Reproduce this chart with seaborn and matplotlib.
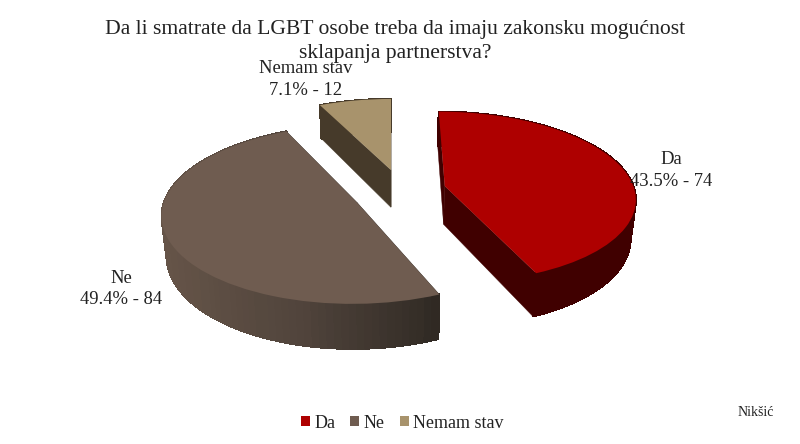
"""plot.py
Exploded 3D-looking pie: ax.pie wedges pushed through a perspective transform.
"""

import matplotlib.pyplot as plt
import matplotlib.transforms as mtransforms
import numpy as np
import seaborn as sns

# Data
categories = ['Da', 'Ne', 'Nemam stav']
counts = [74, 84, 12]
title = ('Da li smatrate da LGBT osobe treba da imaju zakonsku mogućnost\n'
         'sklapanja partnerstva?')
note = 'Nikšić'

# Styles
top_colors = ['#ae0000', '#6f5c50', '#a8936c']
side_colors = ['#400000', '#2e2822', '#463a2a']
rim_colors = [['#400000', '#400000'],
              ['#655448', '#4f433b', '#2e2822'],
              ['#463a2a', '#463a2a']]
text_color = '#222222'

# Layout
wedge_shift = [(0.285, 0.058), (-0.175, -0.135), (0.0, 0.254)]
label_pos = [(671, 170.5), (121, 289), (306, 79.5)]
depth = 38.5
lower_shrink = 0.978


class Perspective(mtransforms.Transform):
    """Map the pie plane to pixels, with a vanishing point behind the pie."""
    input_dims = 2
    output_dims = 2

    def __init__(self, drop=0.0, shrink=1.0):
        super().__init__()
        self.drop = drop
        self.shrink = shrink

    def transform_non_affine(self, values):
        values = np.asarray(values)
        w = 1 + 0.127 * values[:, 1]
        sx = 391 + 190 * self.shrink * values[:, 0] / w
        sy = -479 + (670 + self.drop) / w
        return np.column_stack([sx, sy])


sns.set_theme(style='white')
plt.rcParams['font.family'] = ['Liberation Serif', 'DejaVu Serif']

fig, ax = plt.subplots(figsize=(8, 4.44), dpi=100)
fig.subplots_adjust(left=0, right=1, bottom=0, top=1)

wedges, _ = ax.pie(counts, colors=top_colors, startangle=90, counterclock=False,
                   wedgeprops={'linewidth': 0})

upper = Perspective()
lower = Perspective(drop=depth, shrink=lower_shrink)

for i, wedge in enumerate(wedges):
    wedge.set_center(wedge_shift[i])
    wedge.set_transform(upper + ax.transData)
    wedge.set_zorder(3)

    # Arc of this slice on the pie plane
    angles = np.radians(np.linspace(wedge.theta1, wedge.theta2, 90))
    arc = np.column_stack([np.cos(angles), np.sin(angles)]) + wedge_shift[i]
    arc_up = upper.transform(arc)
    arc_low = lower.transform(arc)

    # Outer rim, shaded from left to right; no antialiasing so seams stay shut
    shades = sns.blend_palette(rim_colors[i], 40)
    left, right = arc_up[:, 0].min(), arc_up[:, 0].max()
    rim = np.vstack([arc_up, arc_low[::-1]])
    ax.fill(rim[:, 0], rim[:, 1], color=shades[20], lw=0, zorder=1)
    for j in range(len(arc) - 1):
        t = (arc_up[j, 0] - left) / (right - left)
        quad = np.vstack([arc_up[j:j + 2], arc_low[j:j + 2][::-1]])
        shade = shades[int(t * 39)]
        ax.fill(quad[:, 0], quad[:, 1], color=shade, lw=0.8, antialiased=False,
                zorder=1)

    # The two cut faces, behind the rim
    apex = np.array([wedge_shift[i]])
    for end in (arc[:1], arc[-1:]):
        pts = np.vstack([apex, end])
        face = np.vstack([upper.transform(pts), lower.transform(pts)[::-1]])
        ax.fill(face[:, 0], face[:, 1], color=side_colors[i], lw=0.3, zorder=0.5)

# Labels
total = sum(counts)
for name, count, pos in zip(categories, counts, label_pos):
    ax.text(pos[0], pos[1], f'{name}\n{100 * count / total:.1f}% - {count}',
            ha='center', va='center', fontsize=13.4, color=text_color,
            linespacing=1.36, zorder=5)

ax.text(395, 41.5, title, ha='center', va='center', fontsize=15.6,
        color=text_color, linespacing=1.33)
ax.text(756, 412, note, ha='center', va='center', fontsize=10, color=text_color)

ax.legend(wedges, categories, loc='center', bbox_to_anchor=(0.503, 0.047), ncol=3,
          frameon=False, fontsize=13, handlelength=0.5, handleheight=0.5,
          handletextpad=0.25, columnspacing=0.83, labelcolor=text_color)

ax.set_aspect('auto')
ax.set_xlim(0, 800)
ax.set_ylim(444, 0)
ax.axis('off')

fig.savefig('out.png', dpi=100, facecolor='white')
